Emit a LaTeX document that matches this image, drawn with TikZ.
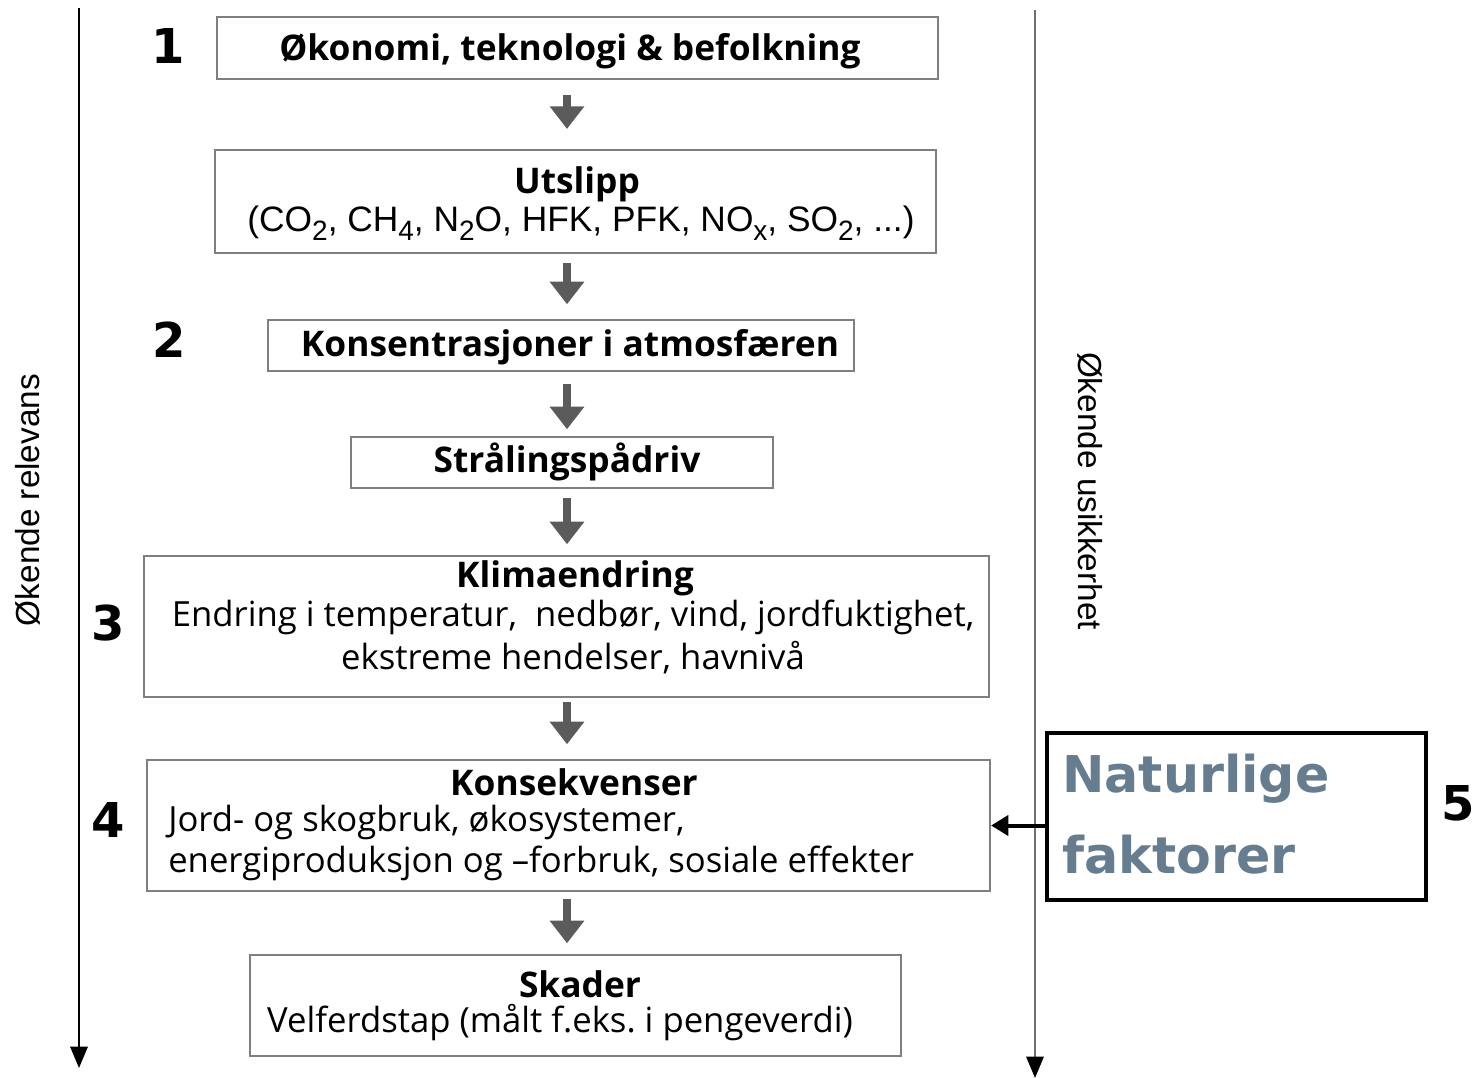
\documentclass[tikz,border=0pt]{standalone}
\usepackage{fontspec}
\setmainfont{Open Sans}
\newfontfamily\arialf{Liberation Sans}
\newfontfamily\verd{DejaVu Sans}
\usetikzlibrary{arrows.meta,calc,fit}
\definecolor{boxgray}{HTML}{7F7F7F}
\definecolor{arrgray}{HTML}{5B5B5B}
\definecolor{natblue}{HTML}{657D8F}
\definecolor{linegray}{HTML}{707070}
\newcommand\chemsub[1]{\raisebox{-0.45ex}{\fontsize{21}{21}\selectfont #1}}
\frenchspacing
\begin{document}
\begin{tikzpicture}[x=0.75pt,y=-0.75pt,
  flowbox/.style={draw=boxgray,line width=1.6pt,inner sep=0pt},
  title/.style={font=\bfseries\fontsize{26.5}{30}\selectfont,inner sep=0pt},
  body/.style={font=\fontsize{26}{30}\selectfont,inner sep=0pt},
  num/.style={font=\verd\bfseries\fontsize{36}{40}\selectfont,inner sep=0pt},
  garrow/.style={draw=arrgray,line width=6.5pt,-{Triangle[width=25pt,length=17pt]}},
  axis/.style={line width=1.6pt,-{Triangle[width=13pt,length=16pt]}},
  axlabel/.style={font=\arialf\fontsize{25}{30}\selectfont,inner sep=0pt}]
\useasboundingbox (0,0) rectangle (1482,1078);
% boxes
\node[flowbox,fit={(217,17)(938,79)}] (b1) {};
\node[flowbox,fit={(215,150)(936,253)}] (b2) {};
\node[flowbox,fit={(268,320)(854,371)}] (b3) {};
\node[flowbox,fit={(351,437)(773,488)}] (b4) {};
\node[flowbox,fit={(144,556)(989,697)}] (b5) {};
\node[flowbox,fit={(147,760)(990,891)}] (b6) {};
\node[flowbox,fit={(250,955)(901,1056)}] (b7) {};
% texts
\node[title] (t1) at (570,51) {Økonomi, teknologi \& befolkning};
\node[title] (t2) at (577,184) {Utslipp};
\node[font=\arialf\fontsize{26.5}{30}\selectfont,inner sep=0pt] (t2b) at (581,223)
  {(CO\chemsub{2}, CH\chemsub{4}, N\chemsub{2}O, HFK, PFK, NO\chemsub{x}, SO\chemsub{2}, ...)};
\node[title] (t3) at (570,347) {Konsentrasjoner i atmosfæren};
\node[title] (t4) at (567,462) {Strålingspådriv};
\node[title] (t5) at (575,578) {Klimaendring};
\node[body] (t5b) at (573,617) {Endring i temperatur,\ \ nedbør, vind, jordfuktighet,};
\node[body] (t5c) at (573,658) {ekstreme hendelser, havnivå};
\node[title] (t6) at (574,782) {Konsekvenser};
\node[body,anchor=west] (t6b) at (168,822) {Jord- og skogbruk, økosystemer,};
\node[body,anchor=west] (t6c) at (168,863) {energiproduksjon og –forbruk, sosiale effekter};
\node[title] (t7) at (580,984) {Skader};
\node[body] (t7b) at (560,1023) {Velferdstap (målt f.eks. i pengeverdi)};
% numbers
\node[num] (n1) at (168,46) {1};
\node[num] (n2) at (169,340) {2};
\node[num] (n3) at (108,623) {3};
\node[num] (n4) at (108,820) {4};
\node[num] (n5) at (1458,803) {5};
% gray flow arrows
\coordinate (ax) at (567,0);
\draw[garrow,shorten <=11pt,shorten >=15pt] (b1.south -| ax) -- (b2.north -| ax);
\draw[garrow,shorten <=7pt,shorten >=11pt] (b2.south -| ax) -- (b3.north -| ax);
\draw[garrow,shorten <=9pt,shorten >=5pt] (b3.south -| ax) -- (b4.north -| ax);
\draw[garrow,shorten <=7pt,shorten >=8pt] (b4.south -| ax) -- (b5.north -| ax);
\draw[garrow,shorten <=3pt,shorten >=11pt] (b5.south -| ax) -- (b6.north -| ax);
\draw[garrow,shorten <=5pt,shorten >=8pt] (b6.south -| ax) -- (b7.north -| ax);
% side axes
\coordinate (lt) at (79,8);
\coordinate (lb) at (79,1068);
\draw[axis] (lt) -- (lb);
\coordinate (rt) at (1035,10);
\coordinate (rb) at (1035,1078);
\draw[axis,draw=linegray,-{Triangle[width=13pt,length=16pt,fill=black,color=black]}] (rt) -- (rb);
\node[axlabel,rotate=90] (lrel) at (28,500) {Økende relevans};
\node[axlabel,rotate=-90] (rusk) at (1090,491) {Økende usikkerhet};
% natural factors
\node[draw=black,line width=3pt,inner sep=0pt,fit={(1047,733)(1426,900)}] (nat) {};
\node[font=\verd\bfseries\fontsize{38}{44}\selectfont,text=natblue,anchor=west,inner sep=0pt] (nat1) at (1062,779) {Naturlige};
\node[font=\verd\bfseries\fontsize{38}{44}\selectfont,text=natblue,anchor=west,inner sep=0pt] (nat2) at (1062,855) {faktorer};
\draw[line width=3pt,-{Triangle[width=15pt,length=13pt]}] (nat.west |- b6.east) -- (b6.east);
\end{tikzpicture}
\end{document}
